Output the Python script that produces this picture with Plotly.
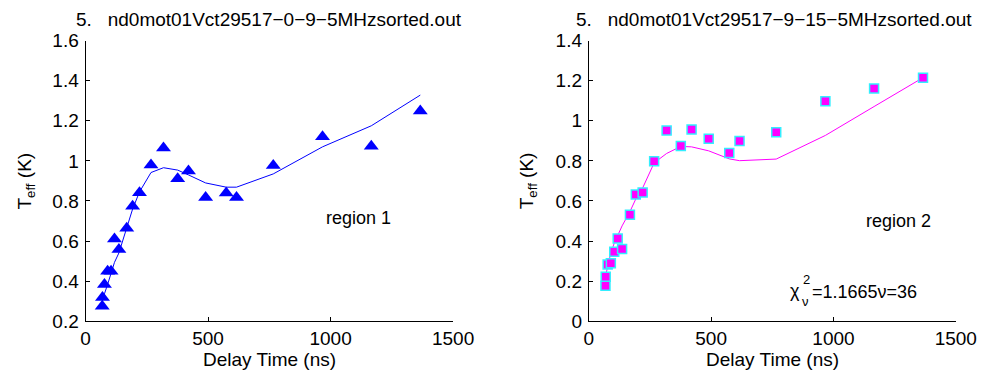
import plotly.graph_objects as go

W, H = 1007, 387

# ---------------- data ----------------
delay_ns = [68, 69, 77, 90, 104, 118, 136, 168, 192, 220, 267, 318, 376, 420,
            490, 574, 616, 766, 967, 1166, 1366]

teff_region1 = [0.275, 0.319, 0.384, 0.450, 0.450, 0.611, 0.558, 0.664, 0.774,
                0.841, 0.980, 1.064, 0.911, 0.950, 0.817, 0.840, 0.817, 0.977,
                1.120, 1.073, 1.249]
fit_region1 = [0.300, 0.305, 0.337, 0.384, 0.439, 0.494, 0.541, 0.660, 0.760,
               0.845, 0.942, 0.966, 0.954, 0.930, 0.890, 0.869, 0.869, 0.935,
               1.070, 1.175, 1.328]

teff_region2 = [0.177, 0.222, 0.284, 0.290, 0.347, 0.413, 0.361, 0.531, 0.633,
                0.642, 0.798, 0.952, 0.874, 0.957, 0.911, 0.839, 0.899, 0.943,
                1.097, 1.161, 1.215]
fit_region2 = [0.220, 0.230, 0.272, 0.342, 0.390, 0.429, 0.476, 0.547, 0.610,
               0.665, 0.790, 0.837, 0.872, 0.870, 0.850, 0.810, 0.801, 0.809,
               0.927, 1.071, 1.215]

title_left = "5.   nd0mot01Vct29517\u22120\u22129\u22125MHzsorted.out"
title_right = "5.   nd0mot01Vct29517\u22129\u221215\u22125MHzsorted.out"
x_ticks = [0, 500, 1000, 1500]
y_ticks_left = [0.2, 0.4, 0.6, 0.8, 1.0, 1.2, 1.4, 1.6]
y_ticks_right = [0, 0.2, 0.4, 0.6, 0.8, 1.0, 1.2, 1.4]

# ---------------- layout geometry ----------------
def px_x(p):
    return p / W

def px_y(p):
    return 1 - p / H

xl = [px_x(82.7), px_x(460)]
xr = [px_x(599.3), px_x(976)]
yd = [px_y(329.2), px_y(32.3)]

FONT = "Liberation Sans, Arial, Helvetica, sans-serif"

fig = go.Figure()

fig.add_trace(go.Scatter(x=delay_ns, y=fit_region1, mode="lines",
                         line=dict(color="#0000FF", width=1),
                         xaxis="x", yaxis="y", showlegend=False))
fig.add_trace(go.Scatter(x=delay_ns, y=teff_region1, mode="markers",
                         marker=dict(symbol="triangle-up", size=13, color="#0000FF",
                                     line=dict(width=0)),
                         xaxis="x", yaxis="y", showlegend=False))

fig.add_trace(go.Scatter(x=delay_ns, y=fit_region2, mode="lines",
                         line=dict(color="#FF00FF", width=1),
                         xaxis="x2", yaxis="y2", showlegend=False))
fig.add_trace(go.Scatter(x=delay_ns, y=teff_region2, mode="markers",
                         marker=dict(symbol="square", size=9, color="#FF00FF",
                                     line=dict(color="#33EEFF", width=1.5)),
                         xaxis="x2", yaxis="y2", showlegend=False))

axis_common = dict(showgrid=False, zeroline=False, showline=True, linecolor="black",
                   linewidth=1, ticks="inside", ticklen=4, tickcolor="black",
                   tickfont=dict(family=FONT, size=19, color="black"), mirror=False)

fig.update_layout(
    width=W, height=H,
    margin=dict(l=0, r=0, t=0, b=0),
    paper_bgcolor="white", plot_bgcolor="white",
    font=dict(family=FONT, color="black"),
    xaxis=dict(domain=xl, range=[0, 1500], tickvals=x_ticks, anchor="y", **axis_common),
    yaxis=dict(domain=yd, range=[0.2, 1.6], tickvals=y_ticks_left, anchor="x",
               ticklabelstandoff=2, **axis_common),
    xaxis2=dict(domain=xr, range=[0, 1500], tickvals=x_ticks, anchor="y2", **axis_common),
    yaxis2=dict(domain=yd, range=[0, 1.4], tickvals=y_ticks_right, anchor="x2",
                ticklabelstandoff=2, **axis_common),
)

ann = []
def add_text(text, x, y, size=18, angle=0, xanchor="center", yanchor="middle"):
    ann.append(dict(text=text, x=px_x(x), y=px_y(y), xref="paper", yref="paper",
                    showarrow=False, xanchor=xanchor, yanchor=yanchor, textangle=angle,
                    font=dict(family=FONT, size=size, color="black")))

add_text(title_left, 271.5, 10.5, size=19)
add_text(title_right, 789, 10.5, size=19)
add_text("Delay Time (ns)", 271.5, 370, size=19)
add_text("Delay Time (ns)", 787.7, 370, size=19)
add_text("T<sub>eff</sub> (K)", 22, 181, size=19, angle=-90)
add_text("T<sub>eff</sub> (K)", 537, 181, size=19, angle=-90)
add_text("region 1", 363, 220, size=18)
add_text("region 2", 917, 223, size=18)
# chi-squared annotation built from separate pieces
add_text("\u03c7", 811, 297, size=18)
add_text("2", 822.5, 285, size=13)
add_text("\u03bd", 821.5, 308, size=13)
add_text("=1.1665\u03bd=36", 826, 298, size=18, xanchor="left")

fig.update_layout(annotations=ann)

fig.write_html("out.html")
